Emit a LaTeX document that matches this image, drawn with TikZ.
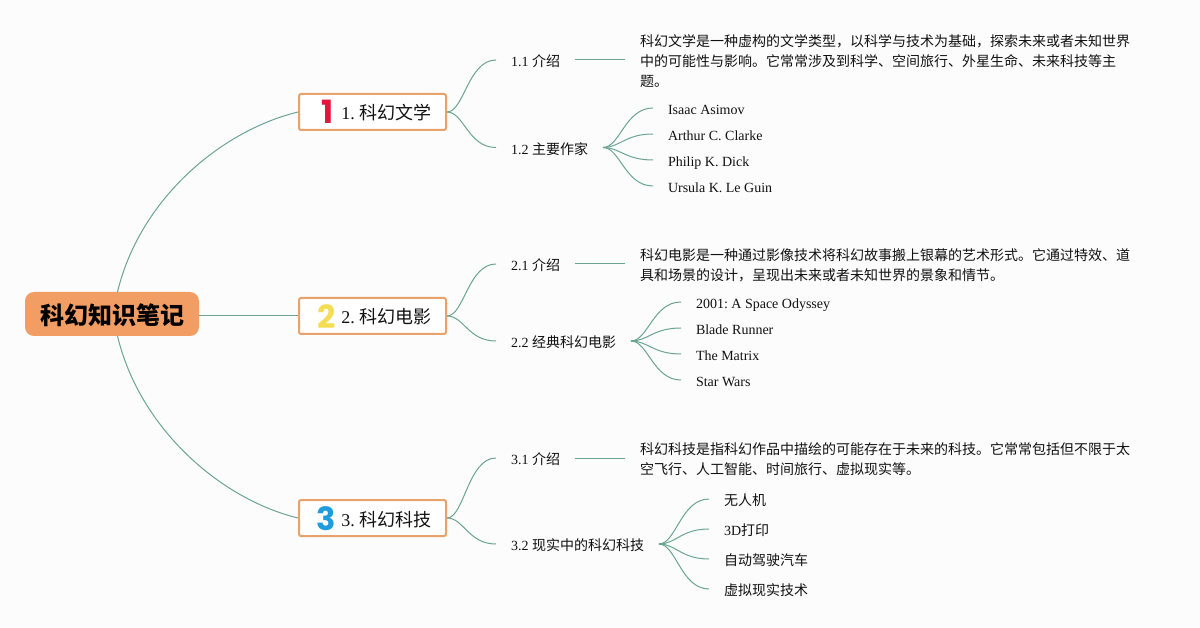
\documentclass[tikz,border=0pt]{standalone}
\usepackage{fontspec}
\setmainfont{Liberation Serif}
\newfontfamily\cjk{Noto Sans CJK SC}
\newfontfamily\iconfont{Poppins}
\definecolor{bgc}{HTML}{FCFCFC}
\definecolor{linkc}{HTML}{6BA592}
\definecolor{orangeb}{HTML}{E8A26C}
\definecolor{rootc}{HTML}{F29D64}
\definecolor{inkc}{HTML}{111111}
\definecolor{ic1}{HTML}{E0163A}
\definecolor{ic2}{HTML}{F5DC55}
\definecolor{ic3}{HTML}{1F9CDD}
\tikzset{
 x=1pt,y=-1pt,
 link/.style={draw=linkc,line width=1pt},
 rootbox/.style={fill=rootc,rounded corners=9pt,minimum width=174pt,minimum height=44pt,inner sep=0pt,outer sep=0pt,text=black,font=\cjk\bfseries\fontsize{24}{28}\selectfont},
 secbox/.style={draw=orangeb,fill=white,line width=2pt,rounded corners=2pt,minimum width=147pt,minimum height=36pt,inner sep=0pt,outer sep=0pt,text=inkc,font=\fontsize{18}{22}\selectfont},
 sub/.style={anchor=west,inner xsep=15pt,inner ysep=0pt,outer sep=0pt,text height=16.5pt,text depth=3pt,text=inkc,font=\fontsize{14}{18}\selectfont},
 para/.style={anchor=west,inner xsep=15pt,inner ysep=0pt,outer sep=0pt,align=left,text=inkc,font=\cjk\fontsize{14}{20}\selectfont},
 icon/.style={inner sep=0pt,font=\iconfont\bfseries\fontsize{32}{32}\selectfont},
}
\newcommand{\seclabel}[1]{\makebox[147pt][l]{\hspace{42.3pt}\raisebox{-8pt}[0pt][0pt]{#1}}}
\begin{document}
\frenchspacing
\begin{tikzpicture}
\useasboundingbox[fill=bgc] (0,0) rectangle (1200,628);
\node[rootbox] (root) at (112,314) {\raisebox{-10.4pt}[0pt][0pt]{\hspace{1pt}科幻知识笔记}};
\node[secbox] (s1) at (372.5,112) {\seclabel{1. {\cjk 科幻文学}}};
\node[secbox] (s2) at (372.5,316) {\seclabel{2. {\cjk 科幻电影}}};
\node[secbox] (s3) at (372.5,518) {\seclabel{3. {\cjk 科幻科技}}};
\node[icon,text=ic1] (i1) at (328,111.5) {1};
\node[icon,text=ic2] (i2) at (327,316.5) {2};
\node[icon,text=ic3] (i3) at (326.5,518.5) {3};

\node[sub] (a11) at (496,60) {1.1 {\cjk 介绍}};
\node[sub] (a12) at (496,147.5) {1.2 {\cjk 主要作家}};
\node[para] (p11) at (625,61.5) {科幻文学是一种虚构的文学类型，以科学与技术为基础，探索未来或者未知世界\\中的可能性与影响。它常常涉及到科学、空间旅行、外星生命、未来科技等主\\题。};
\node[sub] (n11) at (653,108) {Isaac Asimov};
\node[sub] (n12) at (653,134) {Arthur C. Clarke};
\node[sub] (n13) at (653,160) {Philip K. Dick};
\node[sub] (n14) at (653,186) {Ursula K. Le Guin};

\node[sub] (a21) at (496,264) {2.1 {\cjk 介绍}};
\node[sub] (a22) at (496,341) {2.2 {\cjk 经典科幻电影}};
\node[para] (p21) at (625,265.5) {科幻电影是一种通过影像技术将科幻故事搬上银幕的艺术形式。它通过特效、道\\具和场景的设计，呈现出未来或者未知世界的景象和情节。};
\node[sub] (n21) at (681,302) {2001: A Space Odyssey};
\node[sub] (n22) at (681,328) {Blade Runner};
\node[sub] (n23) at (681,354) {The Matrix};
\node[sub] (n24) at (681,380) {Star Wars};

\node[sub] (a31) at (496,458) {3.1 {\cjk 介绍}};
\node[sub] (a32) at (496,544) {3.2 {\cjk 现实中的科幻科技}};
\node[para] (p31) at (625,459.5) {科幻科技是指科幻作品中描绘的可能存在于未来的科技。它常常包括但不限于太\\空飞行、人工智能、时间旅行、虚拟现实等。};
\node[sub] (n31) at (709,499) {\cjk 无人机};
\node[sub] (n32) at (709,529) {3D{\cjk 打印}};
\node[sub] (n33) at (709,559) {\cjk 自动驾驶汽车};
\node[sub] (n34) at (709,589) {\cjk 虚拟现实技术};

\draw[link] ([xshift=5.5pt]root.north) .. controls +(22,-92) and +(-78,19) .. ([xshift=-1pt]s1.west);
\draw[link,line width=1.3pt] ([yshift=-1.5pt]root.east) -- ([xshift=-1pt,yshift=0.5pt]s2.west);
\draw[link] ([xshift=5.5pt]root.south) .. controls +(22,92) and +(-78,-19) .. ([xshift=-1pt]s3.west);

\foreach \s/\t in {s1/a11,s1/a12,s2/a21,s2/a22,s3/a31,s3/a32}
  \draw[link] ([xshift=1pt]\s.east) .. controls +(17,0) and +(-28,0) .. (\t.west);
\foreach \s/\t in {a11/p11,a21/p21,a31/p31}
  \draw[link] (\s.east) -- (\t.west |- \s.east);
\foreach \s/\t in {a12/n11,a12/n12,a12/n13,a12/n14,a22/n21,a22/n22,a22/n23,a22/n24,a32/n31,a32/n32,a32/n33,a32/n34}
  \draw[link] (\s.east) .. controls +(17,0) and +(-28,0) .. (\t.west);
\end{tikzpicture}
\end{document}
